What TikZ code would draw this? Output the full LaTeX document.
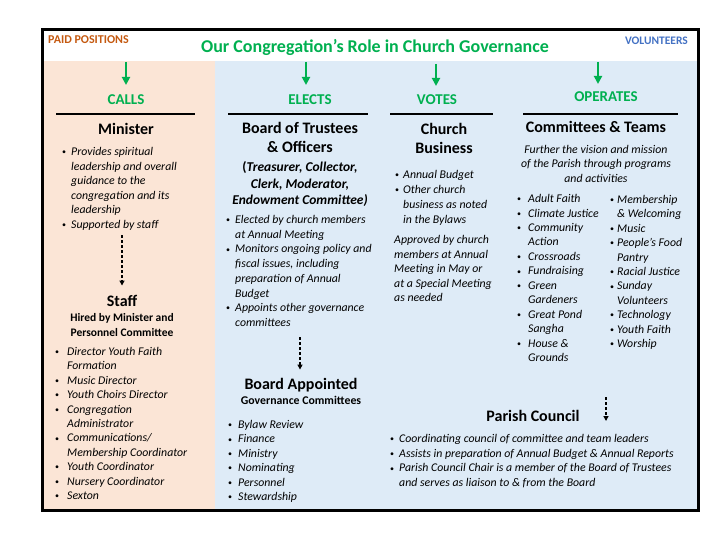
\documentclass[tikz,border=0pt]{standalone}
\usepackage{fontspec}
\setmainfont{Carlito}
\usepackage{xcolor}
\usetikzlibrary{arrows.meta,positioning}
\definecolor{melocoton}{HTML}{FBE5D6}
\definecolor{celeste}{HTML}{DEEBF7}
\definecolor{verde}{HTML}{00B050}
\definecolor{naranja}{HTML}{C55A11}
\definecolor{azul}{HTML}{4472C4}
\newcommand{\itm}[1][9pt]{\makebox[#1][l]{\raisebox{0.8pt}{\upshape\fontsize{8}{8}\selectfont\textbullet}}}
\newcommand{\ind}[1][9pt]{\hspace*{#1}}
\tikzset{
  head/.style={font=\fontsize{16}{19}\selectfont\bfseries,align=center,inner sep=0pt,anchor=base},
  verb/.style={font=\fontsize{15}{18}\selectfont\bfseries,text=verde,inner sep=0pt,anchor=base},
  sub/.style={font=\fontsize{11.5}{15}\selectfont\bfseries,align=center,inner sep=0pt,anchor=base},
  lista/.style={font=\fontsize{11.8}{14.5}\selectfont\itshape,align=left,inner sep=0pt,anchor=base west},
  flecha/.style={-{Triangle[width=8pt,length=8pt]},line width=2pt,verde},
  guion/.style={-{Triangle[width=5pt,length=5pt]},line width=1.4pt,dash pattern=on 3pt off 2pt},
  regla/.style={line width=2pt}
}
\begin{document}
\begin{tikzpicture}[x=1pt,y=-1pt]
\useasboundingbox (0,0) rectangle (720,540);
\fill[white] (0,0) rectangle (720,540);
\fill[melocoton] (42,61) rectangle (215,510);
\fill[celeste] (215,61) rectangle (698,510);
\draw[line width=3pt] (42,30) rectangle (698,510);

\node[font=\fontsize{12}{14}\selectfont\bfseries,text=naranja,inner sep=0pt,anchor=base west] (paid) at (48,44) {PAID POSITIONS};
\node[font=\fontsize{11.5}{14}\selectfont\bfseries,text=azul,inner sep=0pt,anchor=base east] (vol) at (688,45) {VOLUNTEERS};
\node[font=\fontsize{18}{22}\selectfont\bfseries,text=verde,inner sep=0pt,anchor=base] (title) at (375,53) {Our Congregation’s Role in Church Governance};

\node[verb] (calls) at (126,105) {CALLS};
\node[verb] (elects) at (310,105) {ELECTS};
\node[verb] (votes) at (437,105) {VOTES};
\node[verb] (operates) at (606,102) {OPERATES};
\coordinate (callsTop) at (126,62);
\coordinate (electsTop) at (306,62);
\coordinate (votesTop) at (436,64);
\coordinate (operatesTop) at (598,62);
\draw[flecha,shorten >=10pt] (callsTop) -- (callsTop |- calls.north);
\draw[flecha,shorten >=10pt] (electsTop) -- (electsTop |- elects.north);
\draw[flecha,shorten >=9pt] (votesTop) -- (votesTop |- votes.north);
\draw[flecha,shorten >=8pt] (operatesTop) -- (operatesTop |- operates.north);

\draw[regla] (56,114.5) -- (195,114.5);
\draw[regla] (228,114.5) -- (368,114.5);
\draw[regla] (390,114.5) -- (493,114.5);
\draw[regla] (523,114.5) -- (678,114.5);

\node[head] (minister) at (126,135) {Minister};
\node[lista,font=\fontsize{11.8}{14.6}\selectfont\itshape] (minlist) at (62,228.5) {\itm Provides spiritual\\\ind leadership and overall\\\ind guidance to the\\\ind congregation and its\\\ind leadership\\\itm Supported by staff};
\node[head] (staff) at (122,306) {Staff};
\node[sub] (staffsub) at (122,336) {Hired by Minister and\\Personnel Committee};
\node[lista,font=\fontsize{11.8}{14.4}\selectfont\itshape] (stafflist) at (55,499.5) {\itm[12pt]Director Youth Faith\\\ind[12pt]Formation\\\itm[12pt]Music Director\\\itm[12pt]Youth Choirs Director\\\itm[12pt]Congregation\\\ind[12pt]Administrator\\\itm[12pt]Communications/\\\ind[12pt]Membership Coordinator\\\itm[12pt]Youth Coordinator\\\itm[12pt]Nursery Coordinator\\\itm[12pt]Sexton};
\coordinate (minEnd) at (122,235);
\draw[guion,shorten >=9pt] (minEnd) -- (minEnd |- staff.north);

\node[head] (board) at (300,153) {Board of Trustees\\\& Officers};
\node[sub,font=\fontsize{13.5}{16.5}\selectfont\bfseries\itshape] (boardsub) at (300,204.5) {{\upshape(}Treasurer, Collector,\\Clerk, Moderator,\\Endowment Committee)};
\node[lista,font=\fontsize{11.8}{14.71}\selectfont\itshape] (boardlist) at (226,326.5) {\itm Elected by church members\\\ind at Annual Meeting\\\itm Monitors ongoing policy and\\\ind fiscal issues, including\\\ind preparation of Annual\\\ind Budget\\\itm Appoints other governance\\\ind committees};
\node[head] (appointed) at (301,389) {Board Appointed};
\node[sub,font=\fontsize{11.8}{15}\selectfont\bfseries] (appsub) at (301,404) {Governance Committees};
\node[lista,font=\fontsize{11.8}{14.4}\selectfont\itshape] (applist) at (228,500.5) {\itm[10pt]Bylaw Review\\\itm[10pt]Finance\\\itm[10pt]Ministry\\\itm[10pt]Nominating\\\itm[10pt]Personnel\\\itm[10pt]Stewardship};
\coordinate (boardEnd) at (300,337);
\draw[guion,shorten >=8pt] (boardEnd) -- (boardEnd |- appointed.north);

\node[head] (business) at (444,154) {Church\\Business};
\node[lista,font=\fontsize{11.8}{15}\selectfont\itshape] (buslist) at (395,223.5) {\itm[8pt]Annual Budget\\\itm[8pt]Other church\\\ind[8pt]business as noted\\\ind[8pt]in the Bylaws};
\node[lista] (busnote) at (394,301.5) {Approved by church\\members at Annual\\Meeting in May or\\at a Special Meeting\\as needed};

\node[head] (teams) at (596,133) {Committees \& Teams};
\node[lista,align=center,anchor=base] (teamsnote) at (596,182.5) {Further the vision and mission\\of the Parish through programs\\and activities};
\node[lista,font=\fontsize{11.8}{14.45}\selectfont\itshape] (teamsL) at (517,361.5) {\itm[11pt]Adult Faith\\\itm[11pt]Climate Justice\\\itm[11pt]Community\\\ind[11pt]Action\\\itm[11pt]Crossroads\\\itm[11pt]Fundraising\\\itm[11pt]Green\\\ind[11pt]Gardeners\\\itm[11pt]Great Pond\\\ind[11pt]Sangha\\\itm[11pt]House \&\\\ind[11pt]Grounds};
\node[lista,font=\fontsize{11.8}{14.4}\selectfont\itshape] (teamsR) at (610,347.5) {\itm[7pt]Membership\\\ind[7pt]\& Welcoming\\\itm[7pt]Music\\\itm[7pt]People’s Food\\\ind[7pt]Pantry\\\itm[7pt]Racial Justice\\\itm[7pt]Sunday\\\ind[7pt]Volunteers\\\itm[7pt]Technology\\\itm[7pt]Youth Faith\\\itm[7pt]Worship};

\node[head] (council) at (533,421) {Parish Council};
\coordinate (teamsEnd) at (606,397);
\coordinate (councilEnd) at (606,421);
\draw[guion] (teamsEnd) -- (councilEnd);
\node[lista,font=\fontsize{11.8}{14.67}\selectfont\itshape] (councillist) at (390,486.5) {\itm Coordinating council of committee and team leaders\\\itm Assists in preparation of Annual Budget \& Annual Reports\\\itm Parish Council Chair is a member of the Board of Trustees\\\ind and serves as liaison to \& from the Board};
\end{tikzpicture}
\end{document}
